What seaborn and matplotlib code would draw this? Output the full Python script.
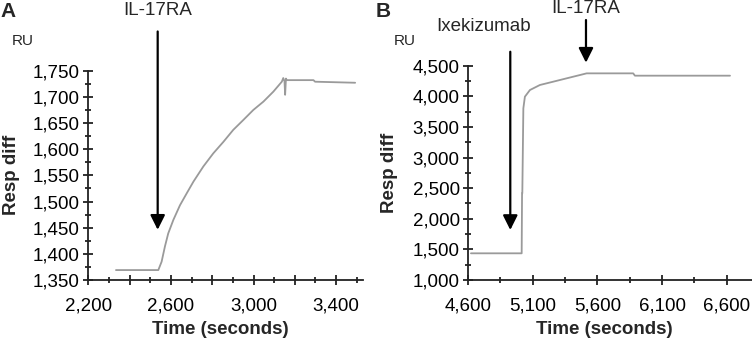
import numpy as np
import pandas as pd
import seaborn as sns
import matplotlib.pyplot as plt
from matplotlib.ticker import MultipleLocator, FuncFormatter

sns.set_theme(style="ticks")
plt.rcParams["font.family"] = ["Liberation Sans", "DejaVu Sans"]

# painel A - so IL-17RA
time_a = [2334, 2539, 2555, 2571, 2587, 2612, 2644, 2677, 2709, 2757, 2805, 2854,
          2902, 2951, 2999, 3048, 3096, 3137, 3144, 3150, 3153, 3157, 3161, 3225,
          3290, 3298, 3492]
resp_a = [1369, 1369, 1385, 1414, 1439, 1465, 1493, 1516, 1538, 1567, 1592, 1614,
          1637, 1656, 1675, 1691, 1710, 1729, 1736, 1730, 1704, 1735, 1732, 1732,
          1732, 1729, 1727]

# painel B - ixekizumab e depois IL-17RA
time_b = [4623, 5015, 5018, 5020, 5028, 5040, 5079, 5156, 5259, 5363, 5466, 5517,
          5877, 5890, 6625]
resp_b = [1436, 1436, 2416, 2416, 3804, 3994, 4103, 4185, 4239, 4294, 4348, 4375,
          4375, 4337, 4337]

# setas: nome, tempo, topo, ponta, texto x, texto y
arrows_a = [("IL-17RA", 2536, 1825, 1446, 2536, 1866)]
arrows_b = [("Ixekizumab", 4927, 4728, 1817, 4724, 5137),
            ("IL-17RA", 5512, 5246, 4549, 5512, 5430)]

df_a = pd.DataFrame({"t": time_a, "ru": resp_a})
df_b = pd.DataFrame({"t": time_b, "ru": resp_b})

fig = plt.figure(figsize=(7.52, 3.39), dpi=100)
ax_a = fig.add_axes([0.1174, 0.174, 0.3653, 0.6174])
ax_b = fig.add_axes([0.6223, 0.174, 0.3777, 0.6322])

comma = FuncFormatter(lambda v, p: f"{v:,.0f}")


def estilo(ax, xlim, ylim, xmaj, xmin, ymaj, ymin, xlab_every):
    sns.despine(ax=ax)
    ax.set_xlim(*xlim)
    ax.set_ylim(*ylim)
    off = xlim[0] % xmaj
    ax.xaxis.set_major_locator(MultipleLocator(xmaj, offset=off))
    ax.xaxis.set_minor_locator(MultipleLocator(xmin, offset=xlim[0] % xmin))
    ax.yaxis.set_major_locator(MultipleLocator(ymaj))
    ax.yaxis.set_minor_locator(MultipleLocator(ymin))
    ax.xaxis.set_major_formatter(FuncFormatter(
        lambda v, p: f"{v:,.0f}" if round(v - xlim[0]) % xlab_every == 0 else ""))
    ax.yaxis.set_major_formatter(comma)
    for s in ["left", "bottom"]:
        ax.spines[s].set_linewidth(1.3)
        ax.spines[s].set_color("#222222")
    ax.tick_params(which="major", direction="inout", length=7, width=1.3,
                   color="#222222", labelsize=13.5, labelcolor="black")
    ax.tick_params(which="minor", direction="inout", length=4, width=1.3, color="#222222")
    ax.tick_params(axis="x", which="major", pad=9)
    ax.tick_params(axis="y", which="major", pad=2.5)
    ax.set_xlabel("Time (seconds)", fontsize=13.5, fontweight="bold")
    ax.set_ylabel("Resp diff", fontsize=13.5, fontweight="bold")
    ax.patch.set_alpha(0)


sns.lineplot(data=df_a, x="t", y="ru", ax=ax_a, color="#9a9a9a", linewidth=1.3,
             estimator=None, sort=False)
sns.lineplot(data=df_b, x="t", y="ru", ax=ax_b, color="#9a9a9a", linewidth=1.3,
             estimator=None, sort=False)

estilo(ax_a, (2200, 3530), (1350, 1750), 200, 100, 50, 25, 400)
estilo(ax_b, (4600, 6795), (1000, 4500), 500, 250, 500, 250, 500)

ax_a.xaxis.set_label_coords(0.482, -0.195)
ax_a.yaxis.set_label_coords(-0.25, 0.5)
ax_b.xaxis.set_label_coords(0.48, -0.19)
ax_b.yaxis.set_label_coords(-0.245, 0.5)

for ax, arrows in [(ax_a, arrows_a), (ax_b, arrows_b)]:
    for nome, t, topo, ponta, tx, ty in arrows:
        ax.annotate("", xy=(t, ponta), xytext=(t, topo), annotation_clip=False,
                    arrowprops=dict(arrowstyle="-|>", color="black", lw=1.6,
                                    mutation_scale=22, shrinkA=0, shrinkB=0))
        ax.text(tx, ty, nome, ha="center", va="center", fontsize=13.5, clip_on=False)

fig.text(23 / 752, 1 - 41 / 339, "RU", ha="center", va="center", fontsize=11)
fig.text(405 / 752, 1 - 41 / 339, "RU", ha="center", va="center", fontsize=11)
fig.text(0.0, 0.995, "A", ha="left", va="top", fontsize=15, fontweight="bold")
fig.text(376 / 752, 0.995, "B", ha="left", va="top", fontsize=15, fontweight="bold")

plt.savefig("out.png", dpi=100)
plt.close()
